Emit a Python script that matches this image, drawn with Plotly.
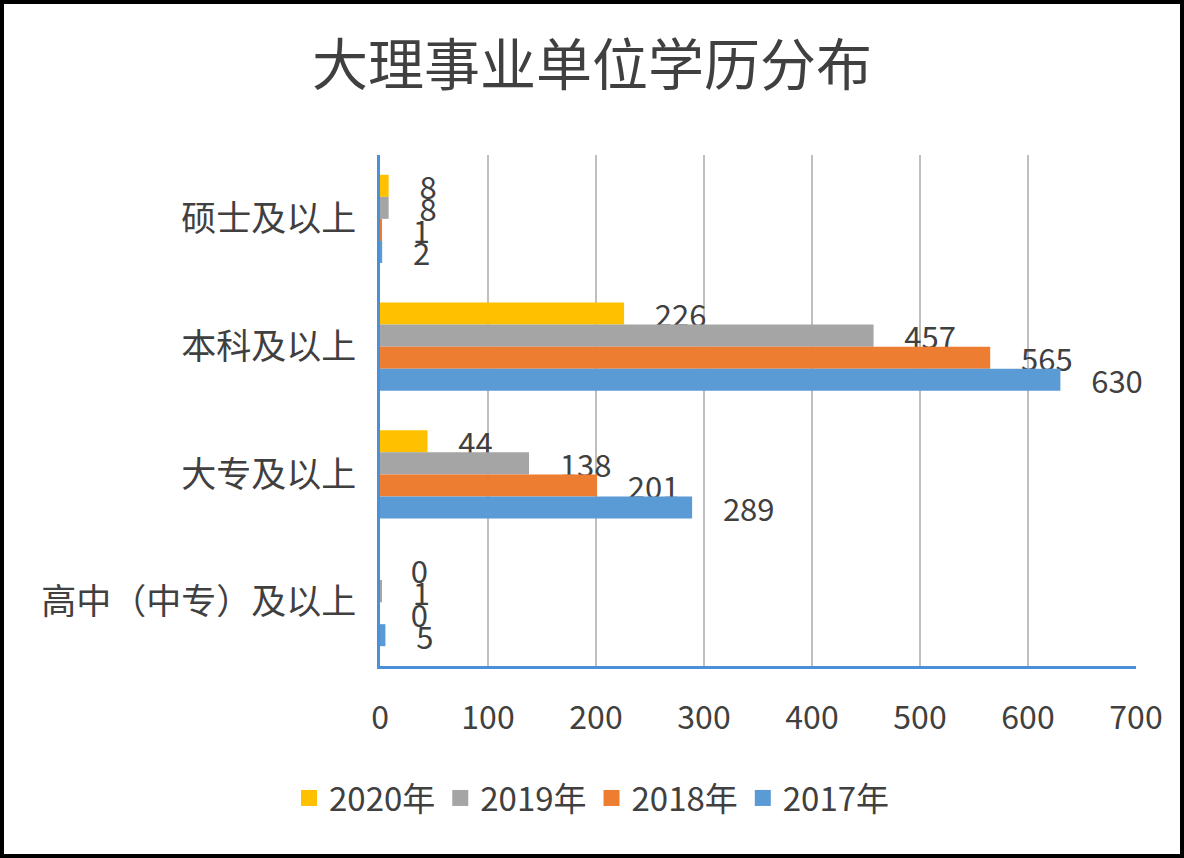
import plotly.graph_objects as go

categories = ["硕士及以上", "本科及以上", "大专及以上", "高中（中专）及以上"]
series_names = ["2020年", "2019年", "2018年", "2017年"]
values_2020 = [8, 226, 44, 0]
values_2019 = [8, 457, 138, 1]
values_2018 = [1, 565, 201, 0]
values_2017 = [2, 630, 289, 5]
colors = ["#FFC000", "#A5A5A5", "#ED7D31", "#5B9BD5"]
x_ticks = [0, 100, 200, 300, 400, 500, 600, 700]

FONT = "Noto Sans CJK SC"
TXT = "#404040"

W, H = 1184, 858
L, R, T, B = 380, 48, 155, 192
pw, ph = W - L - R, H - T - B

fig = go.Figure()
for name, vals, col in zip(series_names, [values_2020, values_2019, values_2018, values_2017], colors):
    fig.add_trace(go.Bar(
        y=categories, x=vals, name=name, orientation="h",
        marker=dict(color=col, line=dict(width=0)),
        text=vals, texttemplate="\u00a0\u00a0\u00a0\u00a0%{x}",
        textposition="outside", constraintext="none", cliponaxis=False,
        textfont=dict(family=FONT, size=31, color=TXT),
        showlegend=False,
    ))
# legend entries with larger square swatches
for name, col in zip(series_names, colors):
    fig.add_trace(go.Scatter(
        x=[None], y=[None], name=name, mode="markers",
        marker=dict(symbol="square", size=18, color=col),
        showlegend=True,
    ))

fig.update_layout(
    width=W, height=H,
    margin=dict(l=L, r=R, t=T, b=B, autoexpand=False),
    paper_bgcolor="white", plot_bgcolor="white",
    barmode="group", bargap=0.31, bargroupgap=0,
    title=dict(text="大理事业单位学历分布", x=0.5, xref="container", xanchor="center",
               y=1 - 65 / H, yanchor="middle",
               font=dict(family=FONT, size=56, color=TXT)),
    legend=dict(orientation="h", xref="container", yref="container",
                x=0.5, xanchor="center", y=1 - 798 / H, yanchor="middle",
                font=dict(family=FONT, size=33, color=TXT),
                traceorder="normal", itemwidth=30),
    xaxis=dict(range=[0, 700], tickvals=x_ticks, showgrid=True,
               gridcolor="#BFBFBF", gridwidth=1.5, zeroline=False,
               showline=True, linecolor="#4A90D9", linewidth=2.5,
               tickfont=dict(family=FONT, size=32, color=TXT),
               ticklabelstandoff=22),
    yaxis=dict(autorange="reversed", showgrid=False, zeroline=False,
               showline=True, linecolor="#4A90D9", linewidth=2.5,
               tickfont=dict(family=FONT, size=35, color=TXT),
               ticklabelstandoff=14),
    shapes=[dict(type="rect", xref="paper", yref="paper",
                 x0=(2 - L) / pw, x1=(W - 2 - L) / pw,
                 y0=(H - B - (H - 2)) / ph, y1=(H - B - 2) / ph,
                 line=dict(color="black", width=4), fillcolor="rgba(0,0,0,0)",
                 layer="above")],
)

fig.write_html("out.html", config={"displayModeBar": False},
               post_script="document.body.style.margin='0';")
